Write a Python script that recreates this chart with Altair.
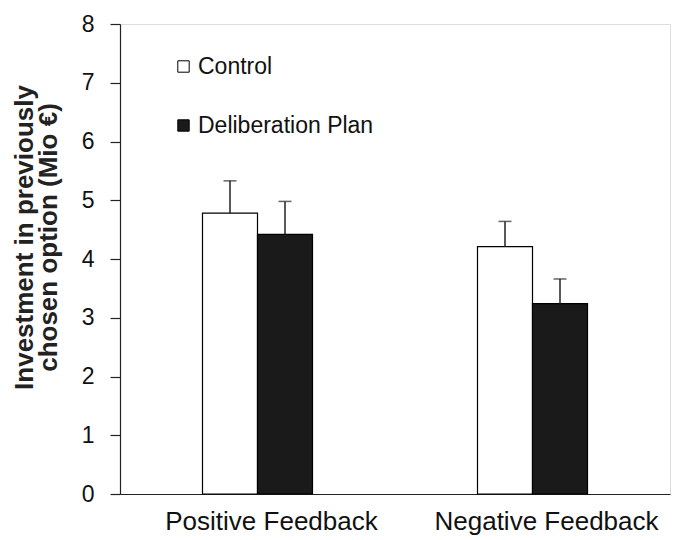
import altair as alt
import pandas as pd

feedback = ["Positive Feedback", "Positive Feedback", "Negative Feedback", "Negative Feedback"]
condition = ["Control", "Deliberation Plan", "Control", "Deliberation Plan"]
means = [4.78, 4.42, 4.21, 3.24]
upper = [5.33, 4.98, 4.64, 3.66]

df = pd.DataFrame({"feedback": feedback, "condition": condition, "mean": means, "upper": upper})

FONT = "Liberation Sans"
x_order = ["Positive Feedback", "Negative Feedback"]
c_order = ["Control", "Deliberation Plan"]
y_ticks = [0, 1, 2, 3, 4, 5, 6, 7, 8]

x_scale = alt.Scale(domain=x_order, paddingInner=0.6, paddingOuter=0.3)
x_axis = alt.Axis(title=None, ticks=False, labelAngle=0, labelFontSize=26, labelLimit=0,
                  labelPadding=14, labelOffset=14, labelColor="#111",
                  domainColor="#222", domainWidth=1.2, labelFont=FONT)
y_axis = alt.Axis(title=["Investment in previously", "chosen option (Mio €)"],
                  titleFontSize=26, titleFontWeight="bold", titleFont=FONT,
                  titleColor="#222", titlePadding=20, titleY=213, titleLineHeight=24,
                  values=y_ticks, format="d", tickSize=10, tickColor="#222",
                  tickWidth=1.2, domainColor="#222", domainWidth=1.2,
                  labelFontSize=23, labelPadding=16, labelFont=FONT,
                  labelColor="#111", grid=False)
xo_enc = alt.XOffset("condition:N", sort=c_order, scale=alt.Scale(paddingOuter=0, paddingInner=0))
y_scale = alt.Scale(domain=[0, 8], nice=False)

bars = alt.Chart(df).mark_bar(stroke="black", strokeWidth=1.2).encode(
    x=alt.X("feedback:N", sort=x_order, scale=x_scale, axis=x_axis),
    xOffset=xo_enc,
    y=alt.Y("mean:Q", scale=y_scale, axis=y_axis),
    fill=alt.Fill("condition:N", sort=c_order,
                  scale=alt.Scale(domain=c_order, range=["white", "#1a1a1a"]),
                  legend=alt.Legend(title=None, orient="none", legendX=52, legendY=31,
                                    symbolType="square", symbolSize=130,
                                    symbolStrokeColor="black", symbolStrokeWidth=1,
                                    labelFontSize=23, labelFont=FONT, labelColor="#111",
                                    labelLimit=0,
                                    rowPadding=35, labelOffset=3, padding=0)),
)

err = alt.Chart(df).mark_rule(color="#222", strokeWidth=1.5).encode(
    x=alt.X("feedback:N", sort=x_order, scale=x_scale, axis=x_axis),
    xOffset=xo_enc,
    y=alt.Y("mean:Q", scale=y_scale, axis=y_axis),
    y2="upper:Q",
)

caps = alt.Chart(df).mark_tick(color="#222", thickness=1.5, size=13).encode(
    x=alt.X("feedback:N", sort=x_order, scale=x_scale, axis=x_axis),
    xOffset=xo_enc,
    y=alt.Y("upper:Q", scale=y_scale, axis=y_axis),
)

chart = alt.layer(bars, err, caps).properties(
    width=550, height=470,
    autosize=alt.AutoSizeParams(type="none"),
    padding={"left": 112, "top": 16, "right": 2, "bottom": 46},
).configure_view(stroke=None).configure(background="white")

chart.save("out.html", embed_options={"renderer": "svg", "actions": False})
